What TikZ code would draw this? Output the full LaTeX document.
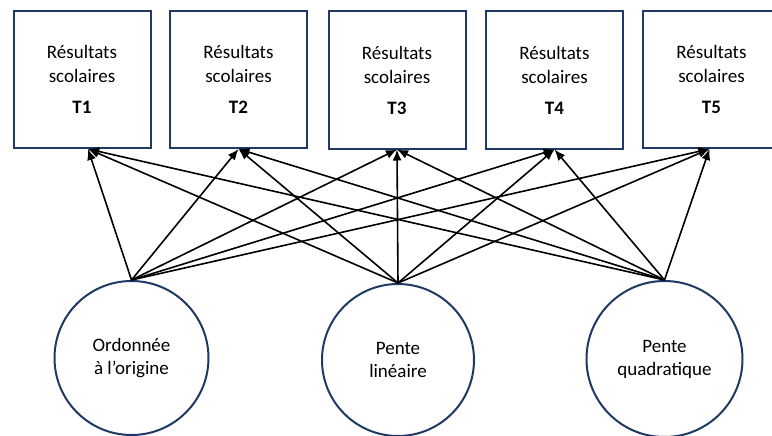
\documentclass[tikz,border=0pt]{standalone}
\usepackage{fontspec}
\setmainfont{Carlito}
\usetikzlibrary{arrows.meta}
\definecolor{navy}{HTML}{203864}
\begin{document}
\begin{tikzpicture}[x=1pt,y=-1pt,
  wave/.style={draw=navy, line width=2pt, rectangle, minimum width=137pt,
    minimum height=137pt, align=center, font=\fontsize{19}{24}\selectfont},
  growth/.style={draw=navy, line width=2pt, circle, align=center,
    inner sep=0pt, font=\fontsize{19}{23}\selectfont},
  path/.style={draw=black, line width=1.6pt, -{Latex[length=11pt,width=9pt]}}]
\useasboundingbox (0,0) rectangle (772,436);

% measurement waves
\node[wave] (t1) at (82,79.5)    {Résultats\\scolaires\\[7pt]\textbf{T1}};
\node[wave] (t2) at (238.5,79.5) {Résultats\\scolaires\\[7pt]\textbf{T2}};
\node[wave] (t3) at (397,80)     {Résultats\\scolaires\\[7pt]\textbf{T3}};
\node[wave] (t4) at (554.5,80)   {Résultats\\scolaires\\[7pt]\textbf{T4}};
\node[wave] (t5) at (711.5,79.5) {Résultats\\scolaires\\[7pt]\textbf{T5}};

% latent growth factors
\node[growth, minimum size=154pt] (c1) at (131.5,358) {Ordonnée\\à l’origine};
\node[growth, minimum size=152pt] (c2) at (398,360)   {Pente\\linéaire};
\node[growth, minimum size=156pt] (c3) at (664.5,359) {Pente\\quadratique};

% loadings
\foreach \c in {c1,c2,c3}{
  \draw[path] (\c.north) -- ([xshift=6pt]t1.south);
  \draw[path] (\c.north) -- (t2.south);
  \draw[path] (\c.north) -- (t3.south);
  \draw[path] (\c.north) -- (t4.south);
  \draw[path] (\c.north) -- ([xshift=-2pt]t5.south);
}
\end{tikzpicture}
\end{document}
